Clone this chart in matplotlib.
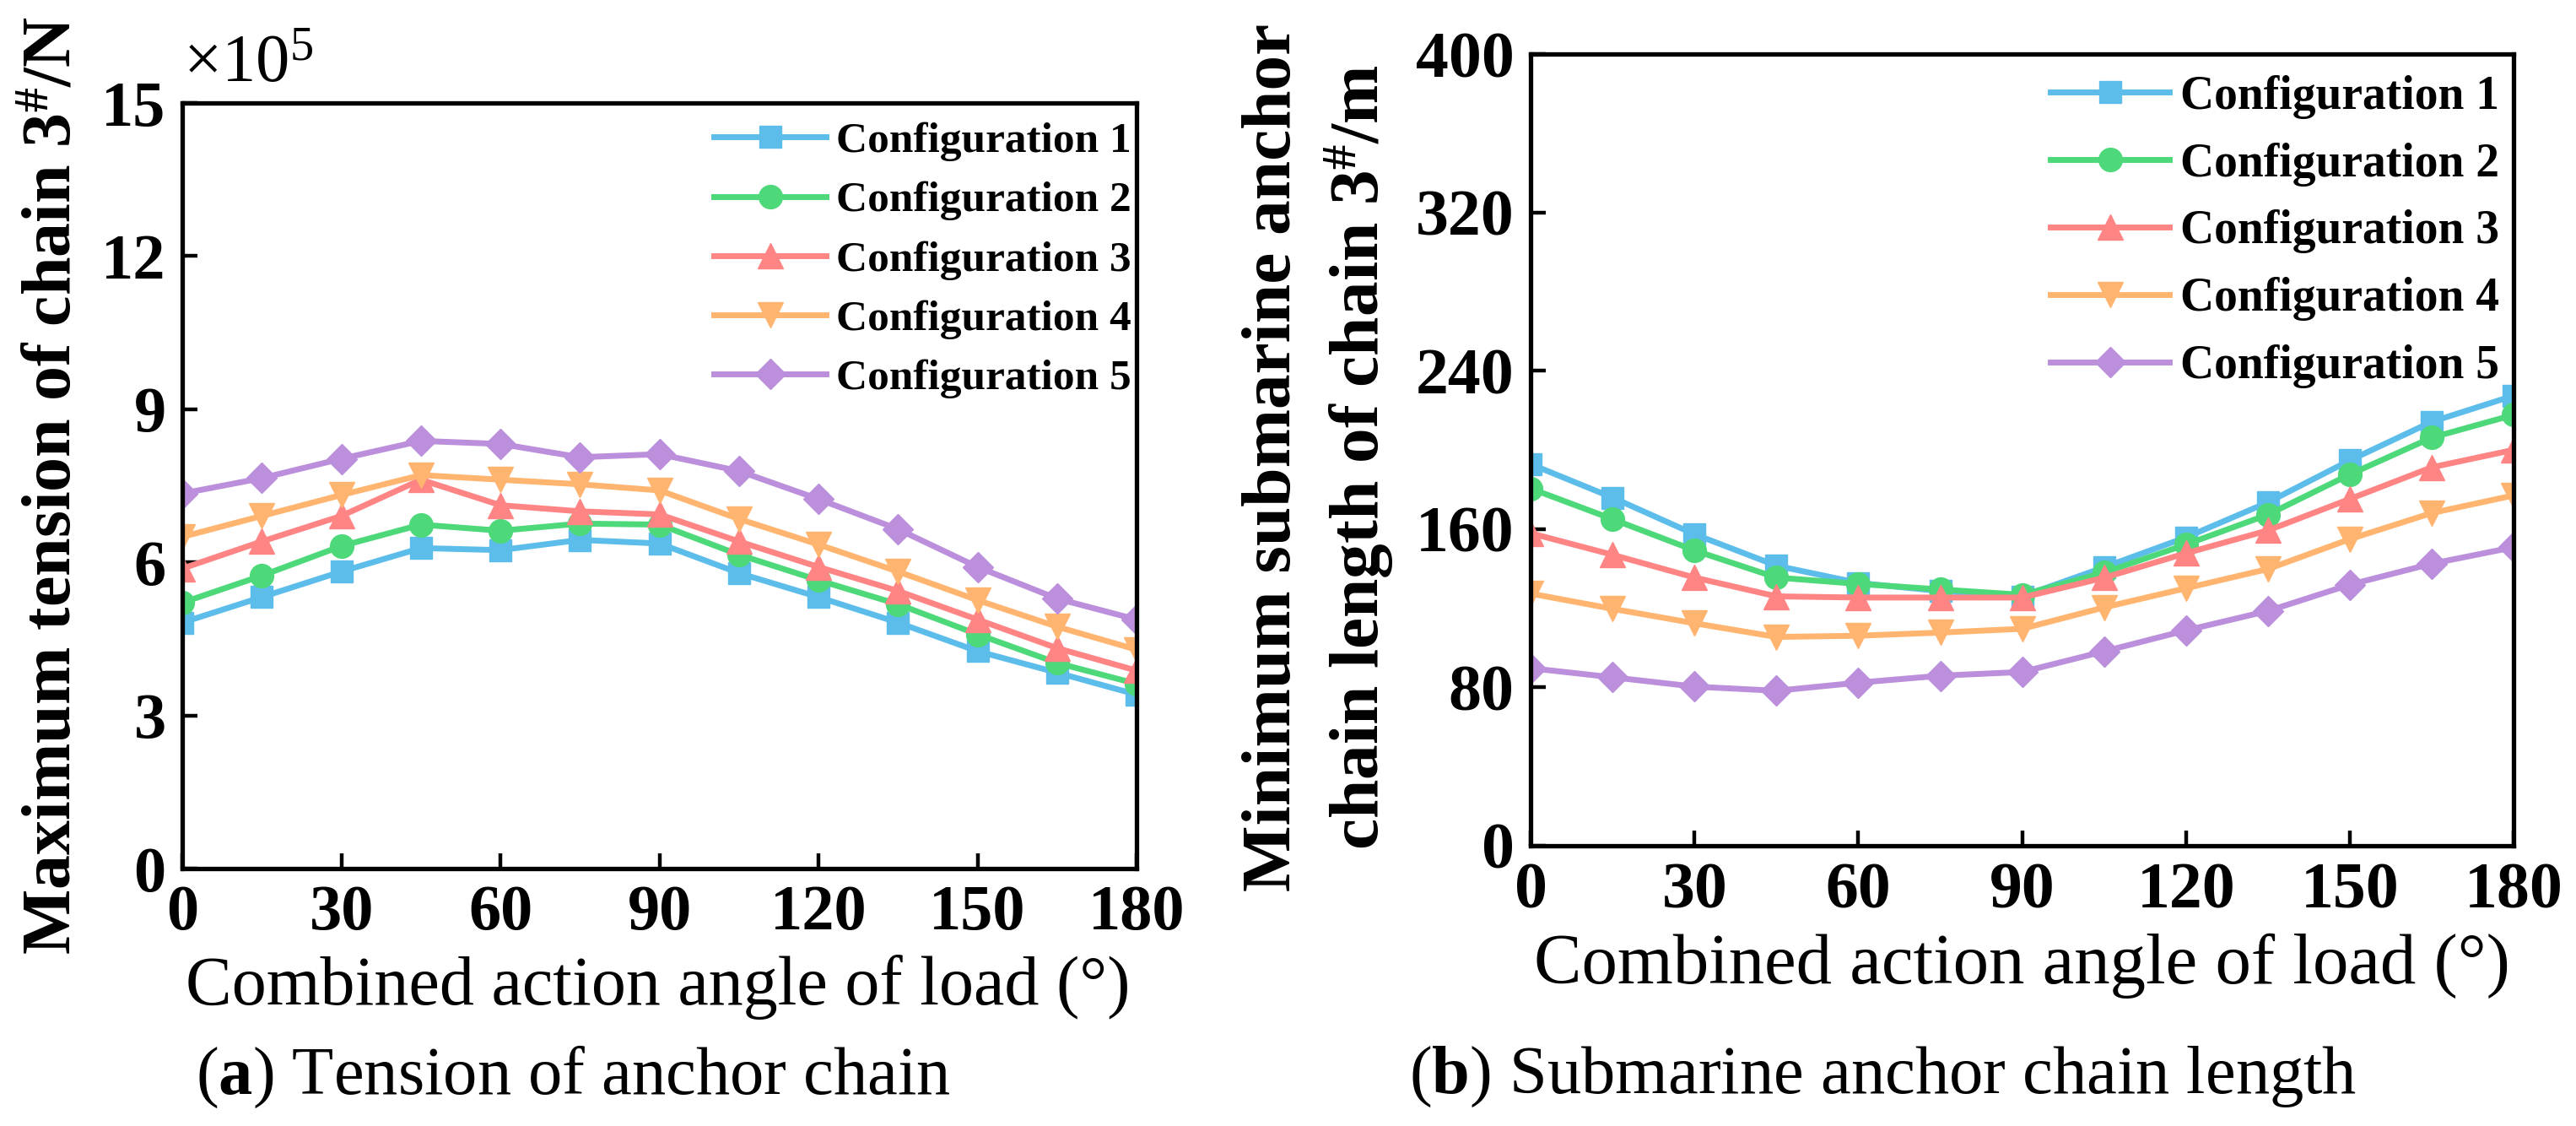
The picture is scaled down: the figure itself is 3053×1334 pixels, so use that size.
import numpy as np
import matplotlib
matplotlib.use('Agg')
import matplotlib.pyplot as plt

plt.rcParams['font.family'] = ['Liberation Serif', 'DejaVu Serif']
plt.rcParams['mathtext.fontset'] = 'custom'
plt.rcParams['mathtext.rm'] = 'Liberation Serif'
plt.rcParams['mathtext.bf'] = 'Liberation Serif:bold'
plt.rcParams['mathtext.it'] = 'Liberation Serif:italic'

# 数据
angles = [0, 15, 30, 45, 60, 75, 90, 105, 120, 135, 150, 165, 180]
labels = ['Configuration 1', 'Configuration 2', 'Configuration 3',
          'Configuration 4', 'Configuration 5']

# (a) 最大张力 (x10^5 N)
tension_c1 = [4.82, 5.32, 5.82, 6.28, 6.24, 6.44, 6.37, 5.79, 5.32, 4.82, 4.26, 3.84, 3.41]
tension_c2 = [5.21, 5.74, 6.32, 6.74, 6.62, 6.76, 6.74, 6.15, 5.65, 5.18, 4.59, 4.03, 3.62]
tension_c3 = [5.88, 6.41, 6.91, 7.62, 7.12, 7.00, 6.94, 6.41, 5.91, 5.44, 4.88, 4.32, 3.88]
tension_c4 = [6.50, 6.91, 7.32, 7.71, 7.62, 7.53, 7.41, 6.85, 6.35, 5.82, 5.26, 4.74, 4.29]
tension_c5 = [7.35, 7.65, 8.03, 8.38, 8.32, 8.06, 8.12, 7.79, 7.24, 6.65, 5.91, 5.29, 4.88]

# (b) 卧底链长度 (m)
length_c1 = [192.8, 175.9, 157.4, 141.5, 132.8, 128.7, 126.0, 140.7, 155.8, 173.5, 194.7, 214.2, 227.4]
length_c2 = [180.5, 165.0, 149.2, 135.5, 132.3, 129.5, 126.8, 138.0, 152.2, 167.3, 187.6, 206.2, 217.7]
length_c3 = [157.9, 147.0, 135.5, 126.0, 125.4, 125.4, 125.4, 135.4, 147.8, 159.3, 175.2, 191.2, 200.0]
length_c4 = [127.4, 119.7, 112.4, 105.5, 106.1, 107.7, 109.6, 120.4, 130.1, 139.8, 154.9, 168.1, 177.0]
length_c5 = [89.7, 85.1, 80.4, 78.3, 82.4, 85.9, 87.8, 98.2, 108.8, 118.6, 131.9, 142.5, 150.8]

colors = ['#5dbdea', '#4dd97a', '#ff8585', '#ffb570', '#bb8fdb']
markers = ['s', 'o', '^', 'v', 'D']
msizes = [19, 20, 21, 21, 18]

fig = plt.figure(figsize=(30.53, 13.34), dpi=100)
ax1 = fig.add_axes([0.0708, 0.2286, 0.3704, 0.6799])
ax2 = fig.add_axes([0.5942, 0.2489, 0.3816, 0.7031])


def style_axes(ax, tick_size):
    for s in ax.spines.values():
        s.set_linewidth(3.8)
    ax.tick_params(direction='in', length=13, width=3.2, labelsize=tick_size,
                   top=False, right=False, pad=14)
    for t in ax.get_xticklabels() + ax.get_yticklabels():
        t.set_fontweight('bold')


# (a)
for y, c, m, ms, lab in zip([tension_c1, tension_c2, tension_c3, tension_c4, tension_c5],
                            colors, markers, msizes, labels):
    ax1.plot(angles, y, color=c, marker=m, markersize=ms, linewidth=5, label=lab)
ax1.set_xlim(0, 180)
ax1.set_ylim(0, 15)
ax1.set_xticks(np.arange(0, 181, 30))
ax1.set_yticks(np.arange(0, 16, 3))
style_axes(ax1, 55)
ax1.legend(loc='upper left', bbox_to_anchor=(0.525, 1.015), frameon=False,
           prop={'weight': 'bold', 'size': 37}, handlelength=2.6,
           handletextpad=0.22, labelspacing=0.45, borderpad=0.2)
fig.text(0.071, 0.942, r'$\times$10$^5$', fontsize=58, ha='left', va='center')

# (b)
for y, c, m, ms, lab in zip([length_c1, length_c2, length_c3, length_c4, length_c5],
                            colors, markers, msizes, labels):
    ax2.plot(angles, y, color=c, marker=m, markersize=ms, linewidth=5, label=lab)
ax2.set_xlim(0, 180)
ax2.set_ylim(0, 400)
ax2.set_xticks(np.arange(0, 181, 30))
ax2.set_yticks(np.arange(0, 401, 80))
style_axes(ax2, 56)
ax2.legend(loc='upper left', bbox_to_anchor=(0.495, 1.015), frameon=False,
           prop={'weight': 'bold', 'size': 40}, handlelength=2.55,
           handletextpad=0.22, labelspacing=0.5, borderpad=0.2)

# 坐标轴标题
fig.text(0.021, 0.569, r'Maximum tension of chain 3$^{\mathbf{\#}}$/N',
         rotation=90, fontsize=59, fontweight='bold', ha='center', va='center')
fig.text(0.512, 0.594, 'Minimum submarine anchor\n' + r'chain length of chain 3$^{\mathbf{\#}}$/m',
         rotation=90, fontsize=60, fontweight='bold', ha='center', va='center',
         linespacing=1.3, multialignment='center')
fig.text(0.2555, 0.123, 'Combined action angle of load (°)', fontsize=59,
         ha='center', va='center')
fig.text(0.785, 0.142, 'Combined action angle of load (°)', fontsize=61,
         ha='center', va='center')

# 子图标题
fig.text(0.2227, 0.0435, r'($\mathbf{a}$) Tension of anchor chain', fontsize=58,
         ha='center', va='center')
fig.text(0.731, 0.0435, r'($\mathbf{b}$) Submarine anchor chain length', fontsize=58,
         ha='center', va='center')

fig.savefig('out.png', dpi=100)
